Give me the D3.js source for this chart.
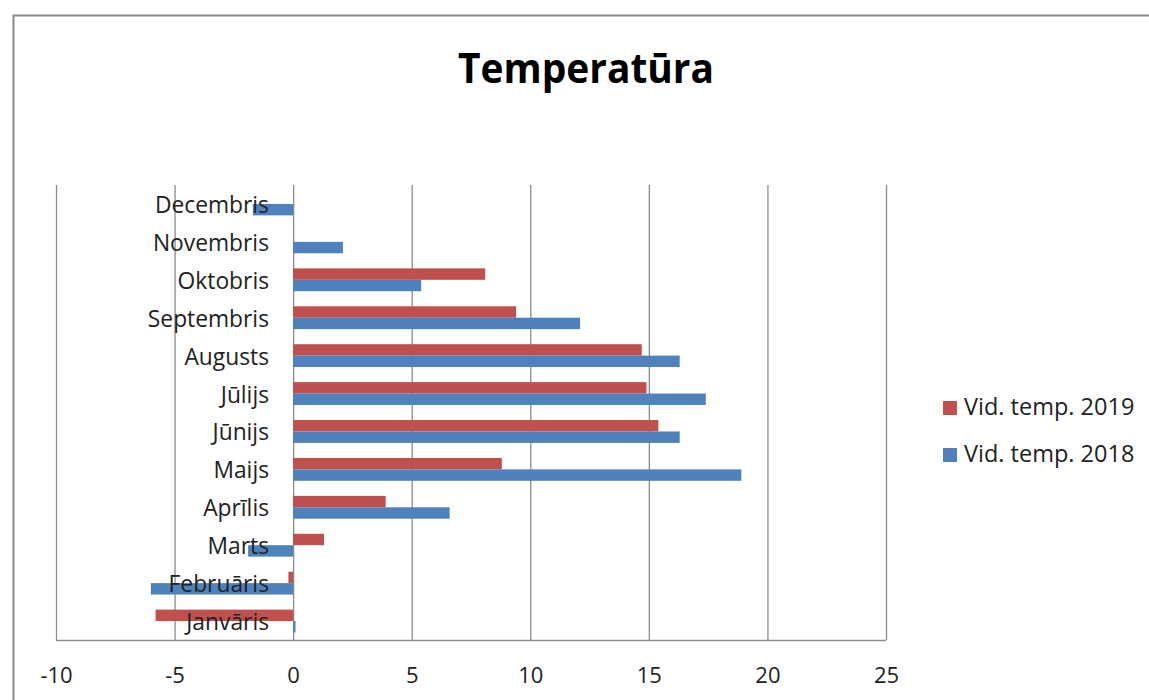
<!DOCTYPE html>
<html><head><meta charset="utf-8">
<script src="https://cdn.jsdelivr.net/npm/d3@7"></script>
<style>body{margin:0;background:#fff;}svg{display:block;font-family:"Open Sans","DejaVu Sans",sans-serif;}</style>
</head><body>
<svg id="c" width="1149" height="700"></svg>
<script>
const months = ["Janvāris","Februāris","Marts","Aprīlis","Maijs","Jūnijs","Jūlijs","Augusts","Septembris","Oktobris","Novembris","Decembris"];
const temp2019 = [-5.8,-0.2,1.3,3.9,8.8,15.4,14.9,14.7,9.4,8.1,null,null];
const temp2018 = [0.1,-6.0,-1.9,6.6,18.9,16.3,17.4,16.3,12.1,5.4,2.1,-1.7];
const seriesNames = ["Vid. temp. 2019","Vid. temp. 2018"];
const seriesColors = ["#C0504D","#4F81BD"];
const xTicks = [-10,-5,0,5,10,15,20,25];

const svg = d3.select("#c");
svg.append("rect").attr("x",13.5).attr("y",15.5).attr("width",1200).attr("height",800)
  .attr("fill","none").attr("stroke","#888").attr("stroke-width",2);

svg.append("text").attr("x",586).attr("y",83).attr("text-anchor","middle")
  .attr("font-size",42).attr("font-weight","bold").attr("fill","#000")
  .attr("textLength",256).attr("lengthAdjust","spacingAndGlyphs")
  .text("Temperatūra");

const L=56, R=886, T=185, B=640;
const x = d3.scaleLinear().domain([-10,25]).range([L,R]);
const y = d3.scaleBand().domain(months.slice().reverse()).range([T,B]);
const inner = d3.scaleBand().domain([0,1]).range([0,y.bandwidth()]).paddingInner(0).paddingOuter(0.66);

svg.append("g").selectAll("line").data(xTicks).join("line")
  .attr("x1",d=>x(d)+0.5).attr("x2",d=>x(d)+0.5).attr("y1",T).attr("y2",B)
  .attr("stroke","#8c8c8c").attr("stroke-width",1.3);
svg.append("line").attr("x1",L).attr("x2",R).attr("y1",B+0.5).attr("y2",B+0.5)
  .attr("stroke","#8c8c8c").attr("stroke-width",1.3);

[temp2019,temp2018].forEach((arr,si)=>{
  svg.append("g").selectAll("rect").data(months.map((m,i)=>({m,v:arr[i]})).filter(d=>d.v!==null))
    .join("rect")
    .attr("x",d=>x(Math.min(0,d.v))).attr("width",d=>Math.abs(x(d.v)-x(0)))
    .attr("y",d=>y(d.m)+inner(si)).attr("height",inner.bandwidth())
    .attr("fill",seriesColors[si]);
});

const xa = svg.append("g").attr("transform",`translate(0,${B})`)
  .call(d3.axisBottom(x).tickValues(xTicks).tickSize(0).tickFormat(d=>String(d)));
xa.select(".domain").remove();
xa.selectAll("text").attr("y",43).attr("dy",null).attr("font-size",22).attr("fill","#222")
  .attr("font-family","Open Sans, sans-serif");

svg.append("g").selectAll("text").data(months).join("text")
  .attr("x",269).attr("y",d=>y(d)+y.bandwidth()/2+9)
  .attr("text-anchor","end").attr("font-size",22.8).attr("fill","#222")
  .text(d=>d);

const lg = svg.append("g");
seriesNames.forEach((n,i)=>{
  const yy = 401 + i*47;
  lg.append("rect").attr("x",943).attr("y",yy).attr("width",14).attr("height",14).attr("fill",seriesColors[i]);
  lg.append("text").attr("x",964).attr("y",yy+14).attr("font-size",23.5).attr("fill","#222").text(n);
});
</script>
</body></html>
